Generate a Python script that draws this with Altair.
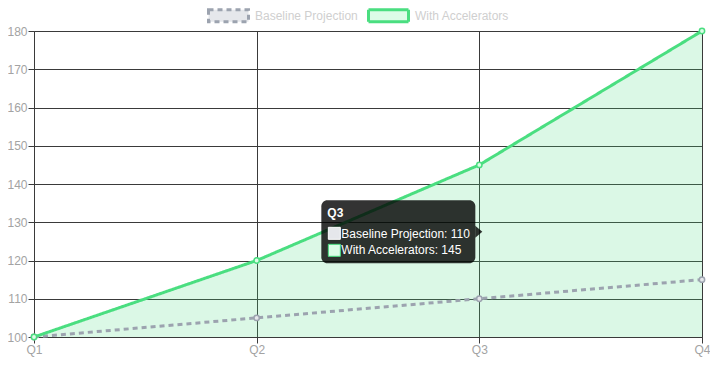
import altair as alt
import pandas as pd

quarters = ["Q1", "Q2", "Q3", "Q4"]
baseline = [100, 105, 110, 115]
accelerated = [100, 120, 145, 180]
series_names = ["Baseline Projection", "With Accelerators"]
y_ticks = [100, 110, 120, 130, 140, 150, 160, 170, 180]
tooltip_index = 2

GRAY = "#9ca3af"
GREEN = "#4ade80"
GRAY_FILL = "#e5e7eb"
GREEN_FILL = "#dcfce7"
GRID = "#3a3a3a"
FONT = "Liberation Sans"
TICK_LABEL = "#a3a3a3"

rows = []
for i, q in enumerate(quarters):
    rows.append({"idx": i, "quarter": q, "series": series_names[0], "value": baseline[i]})
    rows.append({"idx": i, "quarter": q, "series": series_names[1], "value": accelerated[i]})
df = pd.DataFrame(rows)
df_acc = df[df.series == series_names[1]]

tip = pd.DataFrame([{
    "idx": tooltip_index,
    "mid": (baseline[tooltip_index] + accelerated[tooltip_index]) / 2,
    "title": quarters[tooltip_index],
    "l1": f"{series_names[0]}: {baseline[tooltip_index]}",
    "l2": f"{series_names[1]}: {accelerated[tooltip_index]}",
}])

label_expr = "[" + ",".join(f"'{q}'" for q in quarters) + "][datum.value]"

x_enc = alt.X("idx:Q", scale=alt.Scale(domain=[0, len(quarters) - 1], nice=False, zero=False),
              axis=alt.Axis(values=list(range(len(quarters))), tickCount=len(quarters),
                            labelExpr=label_expr, title=None, labelFlush=False,
                            grid=True, gridColor=GRID, tickColor=GRID, domainColor=GRID,
                            tickSize=6, labelPadding=1, labelColor=TICK_LABEL, labelFontSize=12,
                            labelFont=FONT, labelOverlap=False, labelBaseline="top"))
y_scale = alt.Scale(domain=[y_ticks[0], y_ticks[-1]], nice=False, zero=False)
y_enc = alt.Y("value:Q", scale=y_scale,
              axis=alt.Axis(values=y_ticks, tickCount=len(y_ticks), title=None, grid=True,
                            gridColor=GRID, tickColor=GRID, labelFlush=False,
                            domainColor=GRID, tickSize=6, labelPadding=1, labelColor=TICK_LABEL,
                            labelFontSize=12, labelFont=FONT, labelOverlap=False))

area = alt.Chart(df_acc).mark_area(color=GREEN, opacity=0.2).encode(
    x=x_enc, y=y_enc, y2=alt.datum(y_ticks[0]))

legend = alt.Legend(
    orient="none", direction="horizontal", legendX=173, legendY=-37, title=None,
    symbolType="M-1,-0.3H1V0.3H-1Z", symbolSize=1600, symbolStrokeWidth=3,
    symbolFillColor={"expr": f"datum.value === '{series_names[0]}' ? '{GRAY_FILL}' : '{GREEN_FILL}'"},
    symbolDash={"expr": f"datum.value === '{series_names[0]}' ? [4, 3] : [1, 0]"},
    symbolOpacity=1,
    labelColor="#cfcfcf", labelFontSize=12, labelFont=FONT, labelOffset=5, columnPadding=4,
    padding=0,
)

lines = alt.Chart(df).mark_line(strokeWidth=3).encode(
    x="idx:Q", y="value:Q",
    color=alt.Color("series:N", scale=alt.Scale(domain=series_names, range=[GRAY, GREEN]), legend=legend),
    strokeDash=alt.StrokeDash("series:N", scale=alt.Scale(domain=series_names, range=[[5, 4], [1, 0]]), legend=None),
)

points = alt.Chart(df).mark_point(size=28, strokeWidth=1.5, opacity=1, filled=False).encode(
    x="idx:Q", y="value:Q",
    stroke=alt.Stroke("series:N", scale=alt.Scale(domain=series_names, range=[GRAY, GREEN]), legend=None),
    fill=alt.Fill("series:N", scale=alt.Scale(domain=series_names, range=[GRAY_FILL, GREEN_FILL]), legend=None),
)

tip_base = alt.Chart(tip)
tip_box = tip_base.mark_rect(color="#000000", opacity=0.8, cornerRadius=6,
                             xOffset=-158, x2Offset=-4, yOffset=-31.5, y2Offset=31.5).encode(
    x="idx:Q", x2="idx", y=alt.Y("mid:Q"), y2="mid")
tip_caret = tip_base.mark_point(shape="M-0.6,-1L0.58,0L-0.6,1Z", filled=True, color="#000000",
                                opacity=0.8, size=144, xOffset=-0.5).encode(x="idx:Q", y="mid:Q")
tip_title = tip_base.mark_text(align="left", baseline="middle", color="white", fontWeight="bold",
                               fontSize=12, font=FONT, xOffset=-152, yOffset=-19).encode(
    x="idx:Q", y="mid:Q", text="title:N")
tip_l1 = tip_base.mark_text(align="left", baseline="middle", color="white", fontSize=12, font=FONT,
                            xOffset=-138, yOffset=2).encode(x="idx:Q", y="mid:Q", text="l1:N")
tip_l2 = tip_base.mark_text(align="left", baseline="middle", color="white", fontSize=12, font=FONT,
                            xOffset=-138, yOffset=18.5).encode(x="idx:Q", y="mid:Q", text="l2:N")
tip_sw1 = tip_base.mark_rect(color=GRAY_FILL, stroke="white", strokeWidth=1,
                             xOffset=-151, x2Offset=-139, yOffset=-4.5, y2Offset=7.5).encode(
    x="idx:Q", x2="idx", y="mid:Q", y2="mid")
tip_sw2 = tip_base.mark_rect(color=GREEN_FILL, stroke=GREEN, strokeWidth=1,
                             xOffset=-151, x2Offset=-139, yOffset=12.5, y2Offset=24.5).encode(
    x="idx:Q", x2="idx", y="mid:Q", y2="mid")

chart = alt.layer(area, lines, points, tip_box, tip_caret, tip_title, tip_sw1, tip_sw2, tip_l1, tip_l2).properties(
    width=668, height=306,
    autosize=alt.AutoSizeParams(type="none"),
    padding={"left": 26, "top": 23, "right": 8, "bottom": 22},
).configure_view(stroke=None).configure(font=FONT)

chart.save("out.html", embed_options={"renderer": "svg", "actions": False})
